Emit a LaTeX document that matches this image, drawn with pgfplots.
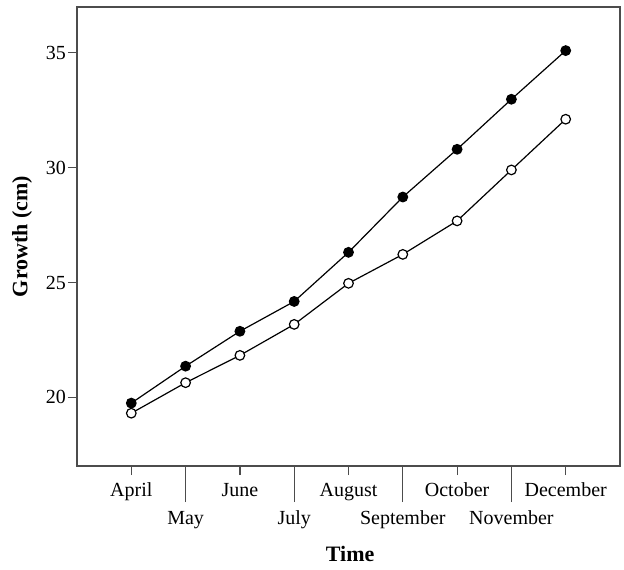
\documentclass[border=0pt]{standalone}
\usepackage{fontspec}
\setmainfont{Liberation Serif}
\usepackage{pgfplots}
\pgfplotsset{compat=1.18}
\begin{document}
\begin{tikzpicture}[x=1pt,y=1pt]
\path (0,0) rectangle (624,570);
\begin{axis}[
  at={(77pt,104pt)}, anchor=south west,
  scale only axis, width=543pt, height=459pt,
  xmin=-1, xmax=9, ymin=17, ymax=37,
  axis line style={black!70, line width=1.2pt},
  tick style={black!70, line width=1.2pt},
  tick align=outside, major tick length=9pt,
  xtick pos=lower, ytick pos=left,
  ytick={20,25,30,35},
  xtick={0,2,4,6,8},
  xticklabels={April,June,August,October,December},
  typeset ticklabels with strut,
  xticklabel style={yshift=-1pt},
  yticklabel style={anchor=base east, yshift=-6.8pt, xshift=1.5pt},
  extra x ticks={1,3,5,7},
  extra x tick labels={May,July,September,November},
  extra x tick style={major tick length=36pt, xticklabel style={yshift=-1pt}},
  ticklabel style={font=\fontsize{20}{24}\selectfont},
  /pgf/number format/assume math mode=true,
  xlabel={\textbf{Time}},
  ylabel={\textbf{Growth (cm)}},
  label style={font=\fontsize{22}{26}\selectfont},
  xlabel style={at={(axis description cs:0.503,-0.207)}, anchor=base},
  ylabel style={at={(axis description cs:-0.101,0.5)}, anchor=center},
]
\addplot[black, line width=1.2pt, mark=*, mark size=4.8pt, mark options={fill=black}]
  coordinates {(0,19.74) (1,21.35) (2,22.87) (3,24.17) (4,26.31) (5,28.72) (6,30.80) (7,32.98) (8,35.10)};
\addplot[black, line width=1.2pt, mark=*, mark size=4.8pt, mark options={fill=white}]
  coordinates {(0,19.30) (1,20.63) (2,21.82) (3,23.17) (4,24.96) (5,26.22) (6,27.68) (7,29.90) (8,32.11)};
\end{axis}
\end{tikzpicture}
\end{document}
